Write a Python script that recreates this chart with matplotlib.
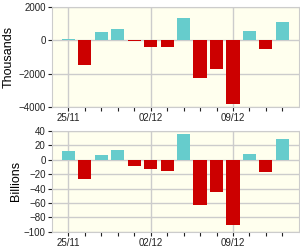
import numpy as np
import matplotlib
matplotlib.use('Agg')
import matplotlib.pyplot as plt

plt.rcParams['font.family'] = ['Liberation Sans', 'DejaVu Sans']

# Data
dates = ['25/11', '26/11', '27/11', '28/11', '29/11', '02/12', '03/12',
         '04/12', '05/12', '06/12', '09/12', '10/12', '11/12', '12/12']
thousands = [80, -1500, 500, 690, -60, -390, -390,
             1370, -2270, -1740, -3840, 560, -510, 1110]
billions = [12, -27, 6, 14, -9, -13, -16,
            36.5, -63.5, -45, -91, 8, -17.5, 29]
label_idx = [0, 5, 10]

col_up = '#66CCCC'
col_dn = '#CC0000'
bg = '#FFFFEE'
grid_col = '#CCCCCC'


def style_axis(ax, values, yticks, ylabel, labx):
  x = np.arange(len(values))
  cols = [col_up if v >= 0 else col_dn for v in values]
  ax.bar(x, values, width=0.8, color=cols, zorder=3)
  ax.set_facecolor(bg)
  ax.set_xlim(-1, len(values))
  ax.set_ylim(yticks[0], yticks[-1])
  ax.set_yticks(yticks)
  ax.set_xticks(x)
  ax.set_xticklabels([dates[i] if i in label_idx else '' for i in x])
  for i in label_idx:
    ax.axvline(i, color=grid_col, lw=1.0, zorder=1)
  for yv in yticks:
    ax.axhline(yv, color=grid_col, lw=1.0, zorder=1)
  for s in ax.spines.values():
    s.set_color(grid_col)
  ax.tick_params(axis='both', length=3, width=0.8, color='#222222',
                 labelsize=7, pad=1.5, labelcolor='#222222')
  ax.set_ylabel(ylabel, fontsize=9)
  ax.yaxis.set_label_coords(labx, 0.5)


fig = plt.figure(figsize=(3.0, 2.5), dpi=100)
ax1 = fig.add_axes([0.173, 0.572, 0.823, 0.400])
ax2 = fig.add_axes([0.173, 0.073, 0.823, 0.403])

style_axis(ax1, thousands, [-4000, -2000, 0, 2000], 'Thousands', -0.15)
style_axis(ax2, billions, [-100, -80, -60, -40, -20, 0, 20, 40], 'Billions', -0.12)

fig.savefig('out.png', dpi=100)
